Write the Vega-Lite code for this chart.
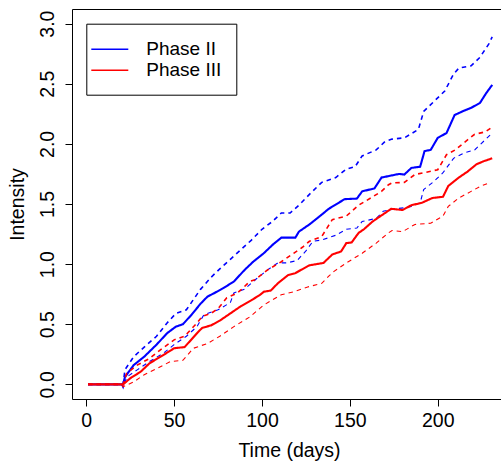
{
  "$schema": "https://vega.github.io/schema/vega-lite/v6.json",
  "width": 429,
  "height": 390,
  "autosize": "none",
  "padding": {"left": 72, "top": 9, "right": 0, "bottom": 67},
  "background": "white",
  "config": {
    "font": "Liberation Sans",
    "view": {"stroke": null},
    "axis": {"grid": false, "domainColor": "black", "tickColor": "black", "labelColor": "black", "titleColor": "black", "domainWidth": 1, "tickWidth": 1}
  },
  "data": {"values": [
{"phase":"Phase II","band":"est","t":1,"v":0},{"phase":"Phase II","band":"est","t":21,"v":0},{"phase":"Phase II","band":"est","t":22,"v":0.06},{"phase":"Phase II","band":"est","t":27,"v":0.16},{"phase":"Phase II","band":"est","t":33,"v":0.23},{"phase":"Phase II","band":"est","t":40,"v":0.33},{"phase":"Phase II","band":"est","t":46,"v":0.425},{"phase":"Phase II","band":"est","t":51,"v":0.48},{"phase":"Phase II","band":"est","t":55,"v":0.5},{"phase":"Phase II","band":"est","t":60,"v":0.58},{"phase":"Phase II","band":"est","t":65,"v":0.67},{"phase":"Phase II","band":"est","t":69,"v":0.73},{"phase":"Phase II","band":"est","t":73,"v":0.76},{"phase":"Phase II","band":"est","t":78,"v":0.8},{"phase":"Phase II","band":"est","t":84,"v":0.855},{"phase":"Phase II","band":"est","t":90,"v":0.95},{"phase":"Phase II","band":"est","t":95,"v":1.02},{"phase":"Phase II","band":"est","t":101,"v":1.09},{"phase":"Phase II","band":"est","t":106,"v":1.16},{"phase":"Phase II","band":"est","t":111,"v":1.22},{"phase":"Phase II","band":"est","t":119,"v":1.22},{"phase":"Phase II","band":"est","t":121,"v":1.27},{"phase":"Phase II","band":"est","t":127,"v":1.33},{"phase":"Phase II","band":"est","t":133,"v":1.4},{"phase":"Phase II","band":"est","t":138,"v":1.46},{"phase":"Phase II","band":"est","t":147,"v":1.54},{"phase":"Phase II","band":"est","t":154,"v":1.545},{"phase":"Phase II","band":"est","t":157,"v":1.605},{"phase":"Phase II","band":"est","t":164,"v":1.63},{"phase":"Phase II","band":"est","t":168,"v":1.72},{"phase":"Phase II","band":"est","t":173,"v":1.735},{"phase":"Phase II","band":"est","t":178,"v":1.75},{"phase":"Phase II","band":"est","t":181,"v":1.745},{"phase":"Phase II","band":"est","t":185,"v":1.8},{"phase":"Phase II","band":"est","t":190,"v":1.81},{"phase":"Phase II","band":"est","t":192.5,"v":1.94},{"phase":"Phase II","band":"est","t":196,"v":1.95},{"phase":"Phase II","band":"est","t":200,"v":2.05},{"phase":"Phase II","band":"est","t":205,"v":2.09},{"phase":"Phase II","band":"est","t":209.6,"v":2.24},{"phase":"Phase II","band":"est","t":214,"v":2.27},{"phase":"Phase II","band":"est","t":219,"v":2.3},{"phase":"Phase II","band":"est","t":224,"v":2.34},{"phase":"Phase II","band":"est","t":227.7,"v":2.425},{"phase":"Phase II","band":"est","t":231,"v":2.49},
{"phase":"Phase II","band":"upper","t":1,"v":0},{"phase":"Phase II","band":"upper","t":21,"v":0},{"phase":"Phase II","band":"upper","t":22,"v":0.12},{"phase":"Phase II","band":"upper","t":27,"v":0.23},{"phase":"Phase II","band":"upper","t":33,"v":0.31},{"phase":"Phase II","band":"upper","t":40,"v":0.4},{"phase":"Phase II","band":"upper","t":46,"v":0.51},{"phase":"Phase II","band":"upper","t":51,"v":0.59},{"phase":"Phase II","band":"upper","t":57,"v":0.62},{"phase":"Phase II","band":"upper","t":65,"v":0.79},{"phase":"Phase II","band":"upper","t":71,"v":0.89},{"phase":"Phase II","band":"upper","t":76,"v":0.96},{"phase":"Phase II","band":"upper","t":82,"v":1.04},{"phase":"Phase II","band":"upper","t":88,"v":1.12},{"phase":"Phase II","band":"upper","t":94,"v":1.2},{"phase":"Phase II","band":"upper","t":100,"v":1.29},{"phase":"Phase II","band":"upper","t":106,"v":1.355},{"phase":"Phase II","band":"upper","t":111,"v":1.425},{"phase":"Phase II","band":"upper","t":116,"v":1.425},{"phase":"Phase II","band":"upper","t":121,"v":1.49},{"phase":"Phase II","band":"upper","t":127,"v":1.58},{"phase":"Phase II","band":"upper","t":134,"v":1.68},{"phase":"Phase II","band":"upper","t":142,"v":1.72},{"phase":"Phase II","band":"upper","t":148,"v":1.79},{"phase":"Phase II","band":"upper","t":153,"v":1.81},{"phase":"Phase II","band":"upper","t":157,"v":1.9},{"phase":"Phase II","band":"upper","t":165,"v":1.95},{"phase":"Phase II","band":"upper","t":170,"v":2.02},{"phase":"Phase II","band":"upper","t":174,"v":2.04},{"phase":"Phase II","band":"upper","t":181,"v":2.05},{"phase":"Phase II","band":"upper","t":189,"v":2.12},{"phase":"Phase II","band":"upper","t":192,"v":2.27},{"phase":"Phase II","band":"upper","t":198,"v":2.355},{"phase":"Phase II","band":"upper","t":204,"v":2.44},{"phase":"Phase II","band":"upper","t":209,"v":2.58},{"phase":"Phase II","band":"upper","t":212,"v":2.63},{"phase":"Phase II","band":"upper","t":219,"v":2.65},{"phase":"Phase II","band":"upper","t":224,"v":2.72},{"phase":"Phase II","band":"upper","t":229,"v":2.83},{"phase":"Phase II","band":"upper","t":231,"v":2.89},
{"phase":"Phase II","band":"lower","t":1,"v":0},{"phase":"Phase II","band":"lower","t":20,"v":0},{"phase":"Phase II","band":"lower","t":21,"v":-0.03},{"phase":"Phase II","band":"lower","t":23,"v":0.06},{"phase":"Phase II","band":"lower","t":29,"v":0.12},{"phase":"Phase II","band":"lower","t":36,"v":0.19},{"phase":"Phase II","band":"lower","t":44,"v":0.26},{"phase":"Phase II","band":"lower","t":50,"v":0.33},{"phase":"Phase II","band":"lower","t":57,"v":0.4},{"phase":"Phase II","band":"lower","t":63,"v":0.48},{"phase":"Phase II","band":"lower","t":67,"v":0.58},{"phase":"Phase II","band":"lower","t":75,"v":0.62},{"phase":"Phase II","band":"lower","t":82,"v":0.68},{"phase":"Phase II","band":"lower","t":84,"v":0.76},{"phase":"Phase II","band":"lower","t":90,"v":0.79},{"phase":"Phase II","band":"lower","t":97,"v":0.88},{"phase":"Phase II","band":"lower","t":103,"v":0.95},{"phase":"Phase II","band":"lower","t":109,"v":1.01},{"phase":"Phase II","band":"lower","t":114,"v":1.01},{"phase":"Phase II","band":"lower","t":120,"v":1.03},{"phase":"Phase II","band":"lower","t":125,"v":1.11},{"phase":"Phase II","band":"lower","t":129,"v":1.19},{"phase":"Phase II","band":"lower","t":134,"v":1.2},{"phase":"Phase II","band":"lower","t":142,"v":1.24},{"phase":"Phase II","band":"lower","t":148,"v":1.29},{"phase":"Phase II","band":"lower","t":154,"v":1.3},{"phase":"Phase II","band":"lower","t":157,"v":1.355},{"phase":"Phase II","band":"lower","t":165,"v":1.38},{"phase":"Phase II","band":"lower","t":169,"v":1.44},{"phase":"Phase II","band":"lower","t":176,"v":1.46},{"phase":"Phase II","band":"lower","t":182,"v":1.47},{"phase":"Phase II","band":"lower","t":185,"v":1.48},{"phase":"Phase II","band":"lower","t":190,"v":1.51},{"phase":"Phase II","band":"lower","t":192,"v":1.62},{"phase":"Phase II","band":"lower","t":198,"v":1.69},{"phase":"Phase II","band":"lower","t":203,"v":1.76},{"phase":"Phase II","band":"lower","t":209,"v":1.88},{"phase":"Phase II","band":"lower","t":215,"v":1.925},{"phase":"Phase II","band":"lower","t":221,"v":1.95},{"phase":"Phase II","band":"lower","t":226,"v":2.02},{"phase":"Phase II","band":"lower","t":231,"v":2.09},
{"phase":"Phase III","band":"est","t":1,"v":0},{"phase":"Phase III","band":"est","t":21,"v":0},{"phase":"Phase III","band":"est","t":25,"v":0.05},{"phase":"Phase III","band":"est","t":31,"v":0.105},{"phase":"Phase III","band":"est","t":36,"v":0.175},{"phase":"Phase III","band":"est","t":44,"v":0.245},{"phase":"Phase III","band":"est","t":50,"v":0.3},{"phase":"Phase III","band":"est","t":56,"v":0.31},{"phase":"Phase III","band":"est","t":63,"v":0.425},{"phase":"Phase III","band":"est","t":66,"v":0.47},{"phase":"Phase III","band":"est","t":71,"v":0.49},{"phase":"Phase III","band":"est","t":76,"v":0.53},{"phase":"Phase III","band":"est","t":82,"v":0.59},{"phase":"Phase III","band":"est","t":88,"v":0.65},{"phase":"Phase III","band":"est","t":94,"v":0.7},{"phase":"Phase III","band":"est","t":99,"v":0.745},{"phase":"Phase III","band":"est","t":101,"v":0.77},{"phase":"Phase III","band":"est","t":105,"v":0.78},{"phase":"Phase III","band":"est","t":109,"v":0.84},{"phase":"Phase III","band":"est","t":115,"v":0.91},{"phase":"Phase III","band":"est","t":119,"v":0.925},{"phase":"Phase III","band":"est","t":122,"v":0.95},{"phase":"Phase III","band":"est","t":127,"v":0.99},{"phase":"Phase III","band":"est","t":135,"v":1.01},{"phase":"Phase III","band":"est","t":140,"v":1.08},{"phase":"Phase III","band":"est","t":145,"v":1.105},{"phase":"Phase III","band":"est","t":148,"v":1.175},{"phase":"Phase III","band":"est","t":151,"v":1.18},{"phase":"Phase III","band":"est","t":155,"v":1.26},{"phase":"Phase III","band":"est","t":158,"v":1.29},{"phase":"Phase III","band":"est","t":163,"v":1.355},{"phase":"Phase III","band":"est","t":170,"v":1.425},{"phase":"Phase III","band":"est","t":173.5,"v":1.46},{"phase":"Phase III","band":"est","t":180,"v":1.45},{"phase":"Phase III","band":"est","t":185,"v":1.49},{"phase":"Phase III","band":"est","t":191,"v":1.51},{"phase":"Phase III","band":"est","t":197,"v":1.55},{"phase":"Phase III","band":"est","t":203,"v":1.56},{"phase":"Phase III","band":"est","t":206,"v":1.65},{"phase":"Phase III","band":"est","t":212,"v":1.72},{"phase":"Phase III","band":"est","t":217,"v":1.77},{"phase":"Phase III","band":"est","t":222,"v":1.83},{"phase":"Phase III","band":"est","t":226,"v":1.855},{"phase":"Phase III","band":"est","t":231,"v":1.88},
{"phase":"Phase III","band":"upper","t":1,"v":0},{"phase":"Phase III","band":"upper","t":21,"v":0},{"phase":"Phase III","band":"upper","t":23,"v":0.09},{"phase":"Phase III","band":"upper","t":29,"v":0.16},{"phase":"Phase III","band":"upper","t":36,"v":0.215},{"phase":"Phase III","band":"upper","t":42,"v":0.285},{"phase":"Phase III","band":"upper","t":50,"v":0.37},{"phase":"Phase III","band":"upper","t":56,"v":0.4},{"phase":"Phase III","band":"upper","t":63,"v":0.51},{"phase":"Phase III","band":"upper","t":66,"v":0.565},{"phase":"Phase III","band":"upper","t":71,"v":0.59},{"phase":"Phase III","band":"upper","t":75,"v":0.63},{"phase":"Phase III","band":"upper","t":80,"v":0.72},{"phase":"Phase III","band":"upper","t":86,"v":0.76},{"phase":"Phase III","band":"upper","t":88,"v":0.785},{"phase":"Phase III","band":"upper","t":93,"v":0.855},{"phase":"Phase III","band":"upper","t":96,"v":0.87},{"phase":"Phase III","band":"upper","t":103,"v":0.95},{"phase":"Phase III","band":"upper","t":111,"v":1.02},{"phase":"Phase III","band":"upper","t":118,"v":1.09},{"phase":"Phase III","band":"upper","t":123,"v":1.14},{"phase":"Phase III","band":"upper","t":127,"v":1.19},{"phase":"Phase III","band":"upper","t":134,"v":1.23},{"phase":"Phase III","band":"upper","t":140,"v":1.37},{"phase":"Phase III","band":"upper","t":148,"v":1.4},{"phase":"Phase III","band":"upper","t":155,"v":1.49},{"phase":"Phase III","band":"upper","t":163,"v":1.56},{"phase":"Phase III","band":"upper","t":168,"v":1.605},{"phase":"Phase III","band":"upper","t":172,"v":1.66},{"phase":"Phase III","band":"upper","t":174,"v":1.675},{"phase":"Phase III","band":"upper","t":181,"v":1.68},{"phase":"Phase III","band":"upper","t":187,"v":1.745},{"phase":"Phase III","band":"upper","t":192,"v":1.76},{"phase":"Phase III","band":"upper","t":200,"v":1.785},{"phase":"Phase III","band":"upper","t":205,"v":1.91},{"phase":"Phase III","band":"upper","t":210,"v":1.95},{"phase":"Phase III","band":"upper","t":215,"v":2.01},{"phase":"Phase III","band":"upper","t":221,"v":2.08},{"phase":"Phase III","band":"upper","t":227,"v":2.1},{"phase":"Phase III","band":"upper","t":231,"v":2.14},
{"phase":"Phase III","band":"lower","t":1,"v":0},{"phase":"Phase III","band":"lower","t":20,"v":0},{"phase":"Phase III","band":"lower","t":21,"v":-0.02},{"phase":"Phase III","band":"lower","t":27,"v":0.02},{"phase":"Phase III","band":"lower","t":33,"v":0.08},{"phase":"Phase III","band":"lower","t":40,"v":0.13},{"phase":"Phase III","band":"lower","t":48,"v":0.19},{"phase":"Phase III","band":"lower","t":55,"v":0.2},{"phase":"Phase III","band":"lower","t":61,"v":0.3},{"phase":"Phase III","band":"lower","t":69,"v":0.34},{"phase":"Phase III","band":"lower","t":76,"v":0.4},{"phase":"Phase III","band":"lower","t":84,"v":0.48},{"phase":"Phase III","band":"lower","t":93,"v":0.56},{"phase":"Phase III","band":"lower","t":101,"v":0.66},{"phase":"Phase III","band":"lower","t":111,"v":0.745},{"phase":"Phase III","band":"lower","t":118,"v":0.77},{"phase":"Phase III","band":"lower","t":126,"v":0.81},{"phase":"Phase III","band":"lower","t":134,"v":0.84},{"phase":"Phase III","band":"lower","t":138,"v":0.9},{"phase":"Phase III","band":"lower","t":141,"v":0.94},{"phase":"Phase III","band":"lower","t":148,"v":1.01},{"phase":"Phase III","band":"lower","t":157,"v":1.09},{"phase":"Phase III","band":"lower","t":165,"v":1.175},{"phase":"Phase III","band":"lower","t":172,"v":1.26},{"phase":"Phase III","band":"lower","t":174,"v":1.28},{"phase":"Phase III","band":"lower","t":180,"v":1.27},{"phase":"Phase III","band":"lower","t":187,"v":1.33},{"phase":"Phase III","band":"lower","t":196,"v":1.34},{"phase":"Phase III","band":"lower","t":203,"v":1.4},{"phase":"Phase III","band":"lower","t":206,"v":1.48},{"phase":"Phase III","band":"lower","t":212,"v":1.55},{"phase":"Phase III","band":"lower","t":219,"v":1.605},{"phase":"Phase III","band":"lower","t":224,"v":1.645},{"phase":"Phase III","band":"lower","t":229,"v":1.675}
  ]},
  "encoding": {
    "y": {"field": "v", "type": "quantitative",
      "scale": {"domain": [-0.122, 3.122], "nice": false, "zero": false},
      "axis": {"values": [0, 0.5, 1, 1.5, 2, 2.5, 3], "format": ".1f", "labelAngle": 270, "labelAlign": "center", "labelBaseline": "alphabetic", "labelPadding": 11.4, "labelFontSize": 19.5, "tickSize": 7, "labelOverlap": false, "labelFlush": false, "title": "Intensity", "titleFontSize": 19.5, "titleFontWeight": "normal", "titleAngle": 270, "titleBaseline": "alphabetic", "titleX": -48.5}}
  },
  "layer": [
    {
      "mark": {"type": "line", "interpolate": "linear"},
      "encoding": {
        "x": {"field": "t", "type": "quantitative",
          "scale": {"domain": [-8.1, 236.0], "nice": false, "zero": false},
          "axis": {"orient": "bottom", "values": [0, 50, 100, 150, 200], "labelFontSize": 19.5, "labelBaseline": "alphabetic", "labelPadding": 20.7, "tickSize": 7, "labelFlush": false, "labelOverlap": false, "title": "Time (days)", "titleFontSize": 19.5, "titleFontWeight": "normal", "titleBaseline": "alphabetic", "titleX": 217, "titleY": 57.7}},
        "color": {"field": "phase", "type": "nominal",
          "scale": {"domain": ["Phase II", "Phase III"], "range": ["#0000ff", "#ff0000"]},
          "legend": {"title": null, "orient": "none", "legendX": 14.3, "legendY": 14.7, "strokeColor": "black", "fillColor": "white", "padding": 14.5, "rowPadding": 0, "symbolType": "M-2.05,0H1.65", "symbolSize": 400, "symbolStrokeWidth": 1.4, "symbolDash": [1, 0], "symbolOffset": 0, "labelOffset": 23.5, "labelFontSize": 19, "labelColor": "black", "labelFont": "Liberation Sans"}},
        "strokeDash": {"field": "band", "type": "nominal",
          "scale": {"domain": ["est", "upper", "lower"], "range": [[1, 0], [4.5, 4], [4.5, 4]]}, "legend": null},
        "strokeWidth": {"field": "band", "type": "nominal",
          "scale": {"domain": ["est", "upper", "lower"], "range": [2.1, 1.1, 1.1]}, "legend": null}
      }
    },
    {
      "mark": {"type": "point", "opacity": 0},
      "encoding": {
        "x": {"field": "t", "type": "quantitative",
          "scale": {"domain": [-8.1, 236.0], "nice": false, "zero": false},
          "axis": {"orient": "top", "ticks": false, "labels": false, "title": null, "domain": true}}
      }
    }
  ],
  "resolve": {"axis": {"x": "independent"}}
}
